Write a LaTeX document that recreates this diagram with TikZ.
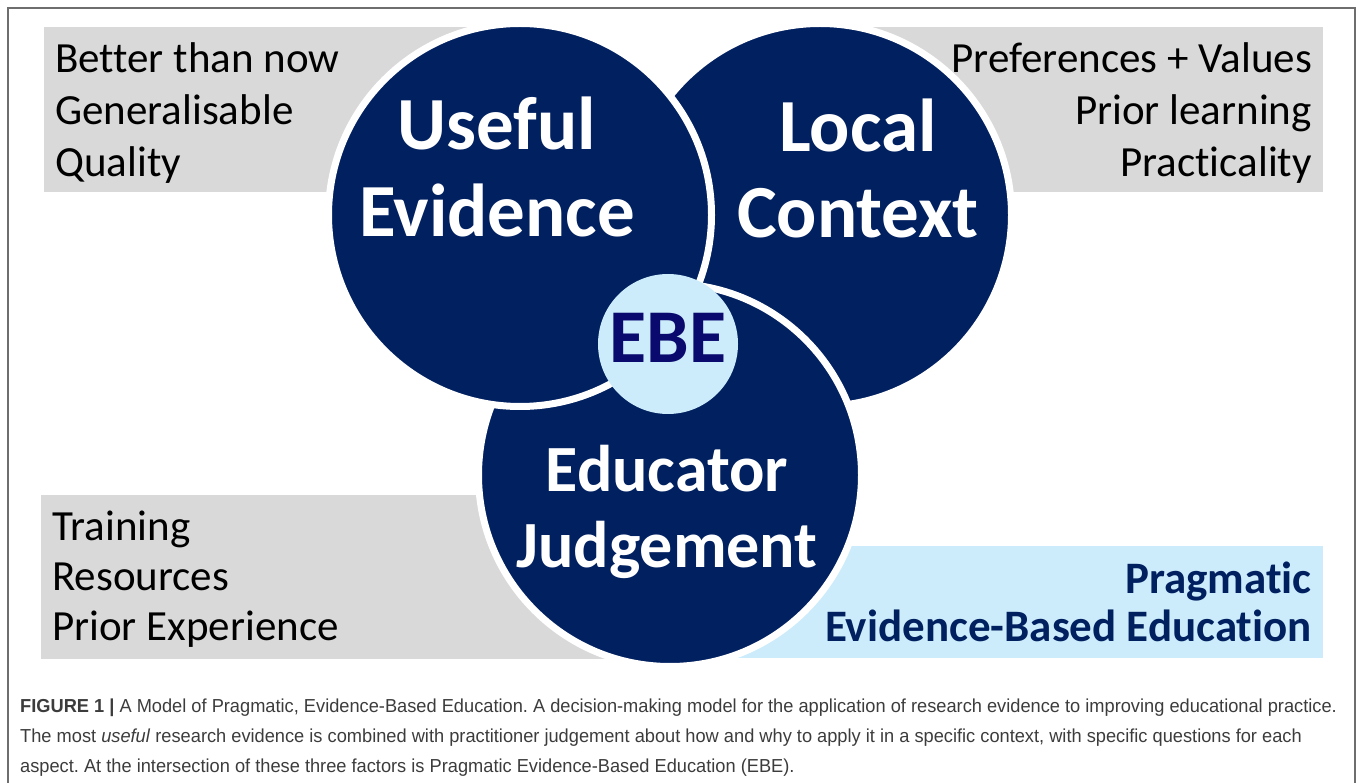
\documentclass[tikz,border=0pt]{standalone}
\usepackage{fontspec}
\setmainfont{Carlito}[Ligatures=CommonOff]
\newfontfamily\capfont[FakeStretch=0.97]{Liberation Sans}
\usetikzlibrary{positioning}
\definecolor{navy}{RGB}{0,32,96}
\definecolor{paleblue}{RGB}{204,236,252}
\definecolor{boxgray}{RGB}{217,217,217}
\definecolor{capgray}{RGB}{60,60,60}
\definecolor{ebeblue}{RGB}{10,10,110}
\definecolor{framegray}{RGB}{110,110,110}
\frenchspacing

\begin{document}
\begin{tikzpicture}[x=1pt, y=-1pt,
  factor/.style={circle, fill=navy, draw=white, line width=7pt, minimum size=383pt, inner sep=0pt},
  bigtext/.style={text=white, anchor=base, font=\fontsize{75}{87}\bfseries},
  listtext/.style={text=black, inner sep=0pt, font=\fontsize{43}{50}\selectfont},
  pebetext/.style={text=navy, inner sep=0pt, anchor=base east, font=\fontsize{45}{50}\bfseries},
  captext/.style={text=capgray, inner sep=0pt, anchor=base west, font=\capfont\fontsize{18.8}{22}\selectfont}]
  \useasboundingbox (0,0) rectangle (1358,783);
  \clip (0,0) rectangle (1358,783);
  \draw[framegray, line width=1.2pt] (8,800) -- (8,8) -- (1355,8) -- (1355,800);

  % boxes behind the circles
  \fill[boxgray] (44,27) rectangle (500,192);
  \fill[boxgray] (840,27) rectangle (1323,192);
  \fill[boxgray] (41,495) rectangle (640,659);
  \fill[paleblue] (700,546) rectangle (1323,658);

  % the three factors
  \node[factor] (local) at (820,215) {};
  \node[factor] (educator) at (670,475) {};
  \node[factor] (useful) at (520,215) {};
  \node[circle, fill=paleblue, minimum size=140pt, inner sep=0pt] (ebe) at (668,344) {};

  \node[bigtext] (useful1) at (497,150) {Useful};
  \node[bigtext] (useful2) at (497,237) {Evidence};
  \node[bigtext] (local1) at (858,152) {Local};
  \node[bigtext] (local2) at (858,238) {Context};
  \node[bigtext, font=\fontsize{66}{80}\bfseries] (educator1) at (667,492) {Educator};
  \node[bigtext, font=\fontsize{66}{80}\bfseries] (educator2) at (667,567) {Judgement};
  \node[text=ebeblue, anchor=base, font=\fontsize{76}{80}\bfseries] (ebetxt) at (668,363) {EBE};

  % questions for each aspect
  \foreach \t [count=\i] in {Better than now, Generalisable, Quality}
    \node[listtext, anchor=base west] (ev\i) at (55,21+52*\i) {\t};
  \foreach \t [count=\i] in {Preferences + Values, Prior learning, Practicality}
    \node[listtext, anchor=base east] (lc\i) at (1312,21+52*\i) {\t};
  \foreach \t [count=\i] in {Training, Resources, Prior Experience}
    \node[listtext, anchor=base west] (ej\i) at (52,490+50*\i) {\t};
  \node[pebetext] (pebe1) at (1312,593) {Pragmatic};
  \node[pebetext] (pebe2) at (1312,641) {Evidence-Based Education};

  % caption
  \node[captext] (cap1) at (20,712) {\textbf{FIGURE 1 |} A Model of Pragmatic, Evidence-Based Education. A decision-making model for the application of research evidence to improving educational practice.};
  \node[captext] (cap2) at (20,742) {The most \textit{useful} research evidence is combined with practitioner judgement about how and why to apply it in a specific context, with specific questions for each};
  \node[captext] (cap3) at (20,772) {aspect. At the intersection of these three factors is Pragmatic Evidence-Based Education (EBE).};
\end{tikzpicture}
\end{document}
